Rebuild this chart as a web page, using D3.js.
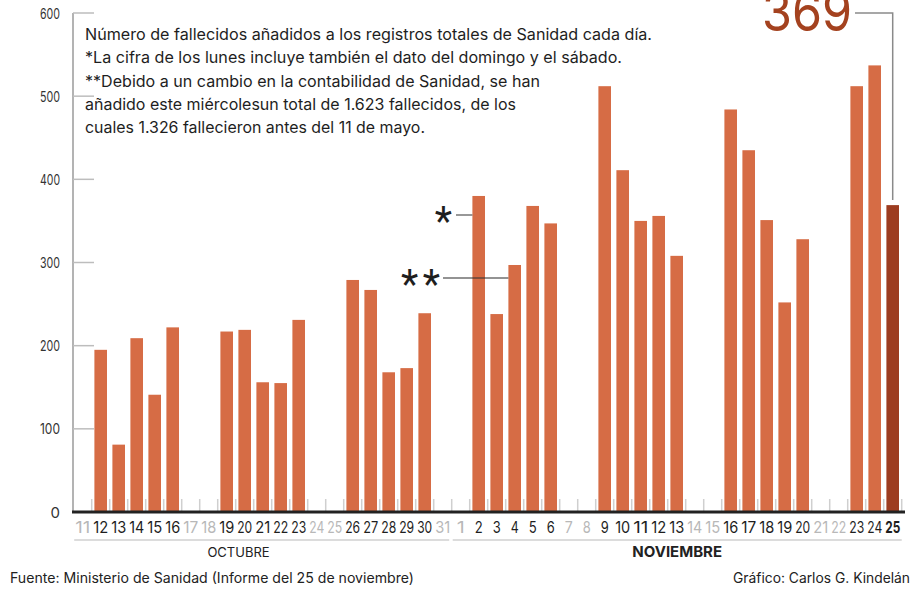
<!DOCTYPE html>
<html><head><meta charset="utf-8">
<script src="https://cdn.jsdelivr.net/npm/d3@7"></script>
<style>
body{margin:0;background:#fff;}
svg{display:block;font-family:Inter, Roboto, "Noto Sans", sans-serif;}
</style></head>
<body><svg id="c" width="911" height="596"></svg>
<script>
const octDays = ["11","12","13","14","15","16","17","18","19","20","21","22","23","24","25","26","27","28","29","30","31"];
const novDays = ["1","2","3","4","5","6","7","8","9","10","11","12","13","14","15","16","17","18","19","20","21","22","23","24","25"];
const octValues = [null,195,81,209,141,222,null,null,217,219,156,155,231,null,null,279,267,168,173,239,null];
const novValues = [null,380,238,297,368,347,null,null,512,411,350,356,308,null,null,484,435,351,252,328,null,null,512,537,369];
const monthNames = ["OCTUBRE","NOVIEMBRE"];
const yTicks = [0,100,200,300,400,500,600];
const noteLines = [
  "Número de fallecidos añadidos a los registros totales de Sanidad cada día.",
  "*La cifra de los lunes incluye también el dato del domingo y el sábado.",
  "**Debido a un cambio en la contabilidad de Sanidad, se han",
  "añadido este miércolesun total de 1.623 fallecidos, de los",
  "cuales 1.326 fallecieron antes del 11 de mayo."
];
const highlightValue = "369";
const source = "Fuente: Ministerio de Sanidad (Informe del 25 de noviembre)";
const credit = "Gráfico: Carlos G. Kindelán";

const data = [];
octDays.forEach((d,i)=>data.push({key:"o"+d, label:d, month:0, v:octValues[i]}));
novDays.forEach((d,i)=>data.push({key:"n"+d, label:d, month:1, v:novValues[i]}));
const lastKey = data[data.length-1].key;

const svg = d3.select("#c");
const x = d3.scaleBand().domain(data.map(d=>d.key)).range([73.7, 901.7]).paddingInner(0.3).paddingOuter(0.15);
const y = d3.scaleLinear().domain([0,600]).range([512,13]);
const step = x.step(), bw = x.bandwidth();
const bandStart = k => x(k) - step*0.15;
const bandEnd = k => x(k) + bw + step*0.15;

// y axis line
svg.append("line").attr("x1",73).attr("x2",73).attr("y1",y(600)).attr("y2",y(0)).attr("stroke","#9a9a9a").attr("stroke-width",1.5);
// y ticks
const yg = svg.append("g");
yg.selectAll("line").data(yTicks.filter(t=>t>0)).join("line")
  .attr("x1",73).attr("x2",94).attr("y1",d=>y(d)).attr("y2",d=>y(d)).attr("stroke","#bdbdbd").attr("stroke-width",1.5);
yg.selectAll("text").data(yTicks).join("text")
  .attr("x",60).attr("y",d=>y(d)+5.5).attr("text-anchor","end").attr("font-size",15).attr("fill","#333")
  .attr("textLength",d=>d>0?20:null).attr("lengthAdjust","spacingAndGlyphs").text(d=>d);

// small boundary ticks
svg.append("g").selectAll("line").data(data.slice(0)).join("line")
  .attr("x1",d=>bandEnd(d.key)).attr("x2",d=>bandEnd(d.key)).attr("y1",499).attr("y2",512)
  .attr("stroke","#cfcfcf").attr("stroke-width",1.5);

// bars
svg.append("g").selectAll("rect").data(data.filter(d=>d.v!=null)).join("rect")
  .attr("x",d=>x(d.key)).attr("width",bw).attr("y",d=>y(d.v)).attr("height",d=>y(0)-y(d.v))
  .attr("fill",d=>d.key===lastKey?"#9d3c20":"#d66c45");

// baseline
svg.append("line").attr("x1",72).attr("x2",905).attr("y1",512).attr("y2",512).attr("stroke","#222").attr("stroke-width",3);

// x labels
svg.append("g").selectAll("text").data(data).join("text")
  .attr("x",d=>x(d.key)+bw/2).attr("y",533).attr("text-anchor","middle")
  .attr("font-size",16).attr("font-weight",d=>d.key===lastKey?700:400)
  .attr("fill",d=>d.v==null?"#b8b8b8":"#1e1e1e")
  .attr("textLength",d=>d.label.length>1?15:8).attr("lengthAdjust","spacingAndGlyphs")
  .text(d=>d.label);

// month brackets
const oKeys = data.filter(d=>d.month===0).map(d=>d.key), nKeys = data.filter(d=>d.month===1).map(d=>d.key);
const months = [{name:monthNames[0], a:bandStart(oKeys[0])+0.5, b:bandEnd(oKeys[oKeys.length-1])-2.5, bold:false, cx:238.5},
                {name:monthNames[1], a:bandStart(nKeys[0])+1, b:bandEnd(nKeys[nKeys.length-1]), bold:true, cx:null}];
months.forEach(m=>{
  svg.append("line").attr("x1",m.a).attr("x2",m.b).attr("y1",540).attr("y2",540).attr("stroke","#dcdcdc").attr("stroke-width",2);
  svg.append("text").attr("x",m.cx!=null?m.cx:(m.a+m.b)/2).attr("y",557).attr("text-anchor","middle")
    .attr("font-size",m.bold?15:13).attr("font-weight",m.bold?700:400).attr("fill","#222").text(m.name);
});

// note text
const baselines = [39.5,62.5,87,110,133];
const noteWidths = [567,537,455,431,340];
svg.append("g").selectAll("text").data(noteLines).join("text")
  .attr("x",85).attr("y",(d,i)=>baselines[i]).attr("font-size",15.5).attr("fill","#1e1e1e")
  .attr("textLength",(d,i)=>noteWidths[i]).attr("lengthAdjust","spacingAndGlyphs").text(d=>d);

// highlight label
const lastX = x(lastKey)+bw/2;
svg.append("text").attr("x",852).attr("y",31).attr("text-anchor","end").attr("font-size",55).attr("fill","#a4421f")
  .attr("textLength",90).attr("lengthAdjust","spacingAndGlyphs").text(highlightValue);
svg.append("path").attr("d",`M855,13H${lastX}V${y(369)-5}`).attr("fill","none").attr("stroke","#8a8a8a").attr("stroke-width",1.5);

// asterisk annotations
const nov2 = x("n2"), nov4 = x("n4");
svg.append("text").attr("x",452).attr("y",235).attr("text-anchor","end").attr("font-size",40).attr("font-family","Roboto").attr("fill","#1e1e1e").text("*");
svg.append("line").attr("x1",456).attr("x2",nov2).attr("y1",215).attr("y2",215).attr("stroke","#555").attr("stroke-width",1.5).attr("opacity",0.8);
svg.append("text").attr("x",440).attr("y",298).attr("text-anchor","end").attr("font-size",40).attr("font-family","Roboto").attr("fill","#1e1e1e")
  .attr("textLength",39).attr("lengthAdjust","spacing").text("**");
svg.append("line").attr("x1",443).attr("x2",nov4).attr("y1",278).attr("y2",278).attr("stroke","#333").attr("stroke-width",1.5).attr("opacity",0.7);

// footer
svg.append("text").attr("x",10).attr("y",583).attr("font-size",14).attr("fill","#222")
  .attr("textLength",404).attr("lengthAdjust","spacingAndGlyphs").text(source);
svg.append("text").attr("x",910).attr("y",583).attr("text-anchor","end").attr("font-size",14).attr("fill","#222")
  .attr("textLength",177).attr("lengthAdjust","spacingAndGlyphs").text(credit);
</script></body></html>
